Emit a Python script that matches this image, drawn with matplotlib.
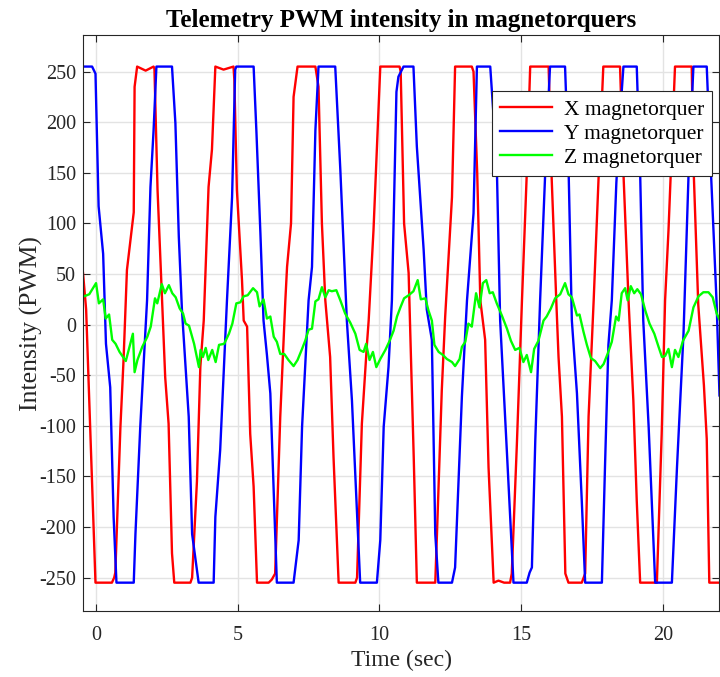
import matplotlib
matplotlib.use("Agg")
import matplotlib.pyplot as plt
import numpy as np

# values (time in s, PWM intensity)
x_t = [-0.46, -0.35, -0.02, 0.56, 0.64, 0.68, 0.86, 0.97, 1.09, 1.33, 1.36, 1.45,
       1.75, 2.03, 2.06, 2.17, 2.33, 2.44, 2.56, 2.68, 2.76,
       3.33, 3.39, 3.56, 3.68, 3.80, 3.97, 4.09, 4.21, 4.50, 4.85,
       4.88, 4.97, 5.15, 5.21, 5.33, 5.44, 5.56, 5.68,
       6.09, 6.20, 6.32, 6.50, 6.68, 6.74, 6.88, 6.97, 7.11, 7.74,
       7.85, 7.97, 8.09, 8.26, 8.38, 8.56,
       9.15, 9.21, 9.38, 9.56, 9.62, 9.79, 10.03, 10.71,
       10.75, 10.87, 11.03, 11.21, 11.32,
       11.97, 12.03, 12.20, 12.32, 12.56, 12.67, 13.26,
       13.32, 13.45, 13.56, 13.73, 13.85, 14.03,
       14.20, 14.40, 14.61, 14.67, 14.85, 15.03, 15.20, 15.32, 15.97,
       16.08, 16.24, 16.32, 16.44, 16.56, 16.67,
       17.14, 17.26, 17.38, 17.56, 17.73, 17.90, 18.49,
       18.62, 18.79, 18.96, 19.08, 19.20,
       19.73, 19.79, 19.96, 20.08, 20.20, 20.43, 21.02,
       21.08, 21.25, 21.45, 21.55, 21.64, 22.00]
x_v = [51, 15, -255, -255, -250, -245, -101, -35, 54, 111, 235, 255,
       251, 255, 253, 133, 24, -52, -98, -226, -255,
       -255, -250, -155, -42, 4, 136, 173, 255, 252, 255,
       242, 133, 44, 4, -2, -108, -160, -255,
       -255, -252, -246, -91, 24, 57, 100, 225, 255, 255,
       235, 100, 24, -32, -131, -255,
       -255, -250, -98, -19, 4, 93, 255, 255,
       250, 100, 51, -131, -255,
       -255, -207, -65, 8, 126, 255, 255,
       250, 150, 24, -15, -141, -255,
       -253, -255, -255, -246, -118, 24, 150, 255, 255,
       143, 24, -32, -91, -246, -255,
       -255, -246, -91, 24, 143, 255, 255,
       143, 24, -75, -174, -255,
       -255, -255, -108, 24, 93, 255, 255,
       159, 20, -60, -113, -255, -255]

y_t = [-0.46, -0.14, -0.02, 0.09, 0.25, 0.35, 0.50, 0.62, 0.72,
       1.33, 1.39, 1.56, 1.80, 1.92, 2.03, 2.13,
       2.68, 2.80, 2.92, 3.03, 3.27, 3.39, 3.62,
       4.15, 4.21, 4.38, 4.62, 4.80, 4.91, 4.95,
       5.56, 5.66, 5.80, 5.91, 6.03, 6.15, 6.38,
       6.97, 7.15, 7.27, 7.50, 7.62, 7.74, 7.85,
       8.44, 8.62, 8.85, 9.03, 9.32,
       9.91, 10.03, 10.15, 10.32, 10.44, 10.60, 10.67, 10.85,
       11.20, 11.32, 11.56, 11.67, 11.85, 11.97, 12.08,
       12.56, 12.67, 12.91, 13.09, 13.32, 13.44,
       13.91, 14.14, 14.26, 14.50, 14.73,
       15.20, 15.30, 15.38, 15.50, 15.67, 15.91, 16.02,
       16.55, 16.67, 16.79, 16.97, 17.14, 17.26,
       17.85, 17.96, 18.08, 18.20, 18.36, 18.50, 18.61,
       19.08, 19.20, 19.31, 19.50, 19.73,
       20.32, 20.50, 20.73, 20.91, 21.08,
       21.55, 21.70, 21.90, 22.00]
y_v = [255, 255, 248, 117, 70, -19, -62, -190, -255,
       -255, -207, -101, 24, 136, 192, 255,
       255, 199, 87, 15, -91, -207, -255,
       -255, -190, -124, 24, 126, 252, 255,
       255, 190, 90, 4, -30, -68, -255,
       -255, -213, -101, 24, 57, 192, 255,
       255, 153, 4, -75, -255,
       -255, -213, -101, -42, 24, 230, 245, 255,
       255, 176, 74, 15, -15, -207, -255,
       -255, -240, -71, 24, 110, 255,
       255, 159, 4, -127, -255,
       -255, -245, -240, -114, 24, 192, 255,
       255, 159, 4, -68, -174, -255,
       -255, -140, -20, 24, 140, 210, 255,
       255, 150, 4, -101, -255,
       -255, -141, -9, 150, 255,
       255, 150, 20, -70]

z_t = [-0.46, -0.42, -0.24, 0.00, 0.10, 0.25, 0.34, 0.46, 0.57, 0.69, 0.83, 1.05,
       1.30, 1.36, 1.46, 1.63, 1.81, 1.93, 2.08, 2.16, 2.32, 2.43, 2.57, 2.69,
       2.81, 2.95, 3.07, 3.16, 3.28, 3.46, 3.63, 3.69, 3.77, 3.87, 3.96, 4.10,
       4.22, 4.34, 4.52, 4.69, 4.81, 4.95, 5.09, 5.21, 5.35, 5.54, 5.68, 5.77,
       5.91, 6.03, 6.15, 6.27, 6.38, 6.50, 6.64, 6.79, 6.97, 7.11, 7.27, 7.38,
       7.50, 7.62, 7.74, 7.85, 7.97, 8.09, 8.21, 8.32, 8.48, 8.62, 8.79, 8.97,
       9.15, 9.30, 9.44, 9.53, 9.65, 9.77, 9.89, 10.03, 10.21, 10.36, 10.50, 10.62,
       10.74, 10.87, 11.03, 11.20, 11.35, 11.46, 11.62, 11.73, 11.85, 11.94, 12.09, 12.24,
       12.38, 12.56, 12.67, 12.83, 12.91, 13.03, 13.14, 13.26, 13.41, 13.53, 13.65, 13.77,
       13.89, 14.00, 14.14, 14.32, 14.50, 14.64, 14.79, 14.94, 15.08, 15.20, 15.35, 15.46,
       15.61, 15.79, 15.90, 16.05, 16.20, 16.38, 16.55, 16.67, 16.79, 16.97, 17.06, 17.20,
       17.32, 17.46, 17.61, 17.79, 17.91, 18.05, 18.20, 18.35, 18.44, 18.55, 18.67, 18.76,
       18.87, 18.99, 19.10, 19.23, 19.38, 19.53, 19.70, 19.85, 19.97, 20.08, 20.20, 20.32,
       20.43, 20.55, 20.71, 20.91, 21.08, 21.26, 21.43, 21.61, 21.76, 21.90, 22.00]
z_v = [29, 28, 30, 41, 21, 25, 6, 10, -15, -19, -27, -36,
       -9, -47, -35, -22, -12, -2, 26, 21, 40, 31, 39, 31,
       27, 16, 11, 1, -1, -19, -42, -25, -32, -23, -35, -25,
       -37, -20, -19, -9, 1, 21, 22, 28, 29, 36, 32, 18,
       25, 6, 8, -12, -17, -29, -29, -35, -41, -35, -24, -16,
       -5, -4, 23, 25, 37, 27, 34, 33, 34, 24, 11, 2,
       -9, -25, -27, -19, -35, -27, -42, -34, -25, -16, -6, 8,
       17, 26, 29, 33, 44, 25, 26, 14, 4, -20, -27, -30,
       -34, -37, -41, -34, -22, -17, 1, -2, 31, 17, 41, 44,
       31, 32, 21, 9, -4, -16, -25, -23, -37, -30, -47, -24,
       -16, 4, 8, 16, 26, 30, 41, 30, 27, 9, 10, -7,
       -20, -33, -36, -43, -39, -29, -17, 8, 4, 31, 36, 24,
       38, 31, 35, 30, 14, 1, -9, -22, -32, -31, -24, -42,
       -25, -32, -16, -6, 17, 28, 32, 32, 27, 11, 5]

x_ticks = [0, 5, 10, 15, 20]
y_ticks = [-250, -200, -150, -100, -50, 0, 50, 100, 150, 200, 250]

plt.rcParams['font.family'] = ['Liberation Serif', 'DejaVu Serif']
plt.rcParams['axes.unicode_minus'] = False

fig = plt.figure(figsize=(7.2, 6.77), dpi=100)
ax = fig.add_axes([0.1153, 0.0975, 0.884, 0.8505])

ax.plot(x_t, x_v, color='#ff0000', lw=1.7, label='X magnetorquer')
ax.plot(y_t, y_v, color='#0000ff', lw=1.7, label='Y magnetorquer')
ax.plot(z_t, z_v, color='#00ff00', lw=1.7, label='Z magnetorquer')

ax.set_xlim(-0.46, 22.0)
ax.set_ylim(-283, 286)
ax.set_xticks(x_ticks)
ax.set_yticks(y_ticks)
ax.grid(True, color='#e3e3e3', lw=1.0)
ax.set_axisbelow(True)
ax.tick_params(direction='in', top=True, right=True, length=5, width=0.8,
               color='#262626', labelsize=14.5, labelcolor='#262626')
ax.tick_params(axis='x', pad=11)
ax.tick_params(axis='y', pad=5)
for s in ax.spines.values():
    s.set_color('#262626')
    s.set_linewidth(0.8)

ax.set_xlabel('Time (sec)', fontsize=17, color='#262626', labelpad=3)
ax.set_ylabel('Intensity (PWM)', fontsize=18.5, color='#262626', labelpad=-3)
ax.set_title('Telemetry PWM intensity in magnetorquers', fontsize=18,
             fontweight='bold', pad=6)

leg = ax.legend(loc='upper right', bbox_to_anchor=(0.989, 0.903),
                borderaxespad=0, fontsize=15.5, fancybox=False, framealpha=1,
                edgecolor='#262626', handlelength=2.4, labelspacing=0.18,
                borderpad=0.4, handletextpad=0.55)
leg.get_frame().set_linewidth(0.8)

fig.savefig('out.png', dpi=100)
